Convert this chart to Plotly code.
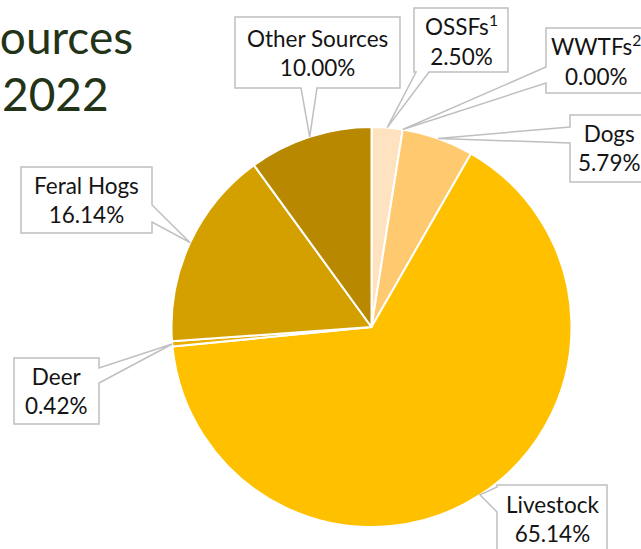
import math
import plotly.graph_objects as go

# ---- data ----
labels = ["OSSFs<sup>1</sup>", "WWTFs<sup>2</sup>", "Dogs", "Livestock", "Deer", "Feral Hogs", "Other Sources"]
values = [2.50, 0.00, 5.79, 65.14, 0.42, 16.14, 10.00]
colors = ["#FFE2C0", "#FFD89A", "#FFC970", "#FFC000", "#E8AE00", "#D3A000", "#B88900"]
title_lines = ["Sources", "2022"]

# ---- layout constants (pixels) ----
W, H = 641, 549
CX, CY, R = 371.5, 327.0, 200.0

# callout boxes: (x0, y0, x1, y1, side, base_a, base_b)
boxes = [
    (414, 8, 508, 72, "bottom", 416, 429),
    (546, 28, 646, 93, "left", 67, 83),
    (570, 115, 648, 182, "left", 127, 143),
    (497, 485, 607, 552, "left", 487, 512),
    (14, 358, 99, 424, "right", 368, 383),
    (21, 167, 152, 233, "right", 205, 222),
    (235, 17, 400, 88, "bottom", 301, 317),
]

def px(x):
    return x / W

def py(y):
    return 1 - y / H

fig = go.Figure(go.Pie(
    labels=labels, values=values, sort=False, direction="clockwise", rotation=0,
    marker=dict(colors=colors, line=dict(color="white", width=2)),
    textinfo="none", hoverinfo="label+percent", showlegend=False,
    domain=dict(x=[px(CX - R), px(CX + R)], y=[py(CY + R), py(CY - R)]),
))

total = sum(values)
cum = 0.0
shapes = []
annotations = []
for lab, v, box in zip(labels, values, boxes):
    theta = 2 * math.pi * (cum + v / 2) / total
    cum += v
    tx = CX + R * math.sin(theta)
    ty = CY - R * math.cos(theta)
    x0, y0, x1, y1, side, a, b = box
    pts = [(x0, y0)]
    if side == "top":
        pts += [(a, y0), (tx, ty), (b, y0)]
    pts += [(x1, y0)]
    if side == "right":
        pts += [(x1, a), (tx, ty), (x1, b)]
    pts += [(x1, y1)]
    if side == "bottom":
        pts += [(b, y1), (tx, ty), (a, y1)]
    pts += [(x0, y1)]
    if side == "left":
        pts += [(x0, b), (tx, ty), (x0, a)]
    path = "M " + " L ".join(f"{px(x):.5f},{py(y):.5f}" for x, y in pts) + " Z"
    shapes.append(dict(type="path", xref="paper", yref="paper", path=path,
                       fillcolor="white", line=dict(color="#BFBFBF", width=1.5), layer="above"))
    annotations.append(dict(
        x=px((x0 + x1) / 2), y=py((y0 + y1) / 2), xref="paper", yref="paper",
        xanchor="center", yanchor="middle", showarrow=False, align="center",
        text=f"{lab}<br>{v:.2f}%",
        font=dict(family="Lato", size=22.5, color="#141414"),
    ))

annotations.append(dict(x=px(135), y=py(66), xref="paper", yref="paper", xanchor="right",
                        yanchor="bottom", showarrow=False, text=title_lines[0],
                        font=dict(family="Lato", size=46, color="#233318")))
annotations.append(dict(x=px(55), y=py(123), xref="paper", yref="paper", xanchor="center",
                        yanchor="bottom", showarrow=False, text=title_lines[1],
                        font=dict(family="Lato", size=46, color="#233318")))

fig.update_layout(
    width=W, height=H, margin=dict(l=0, r=0, t=0, b=0),
    paper_bgcolor="white", plot_bgcolor="white",
    shapes=shapes, annotations=annotations,
)
fig.write_html("out.html")
